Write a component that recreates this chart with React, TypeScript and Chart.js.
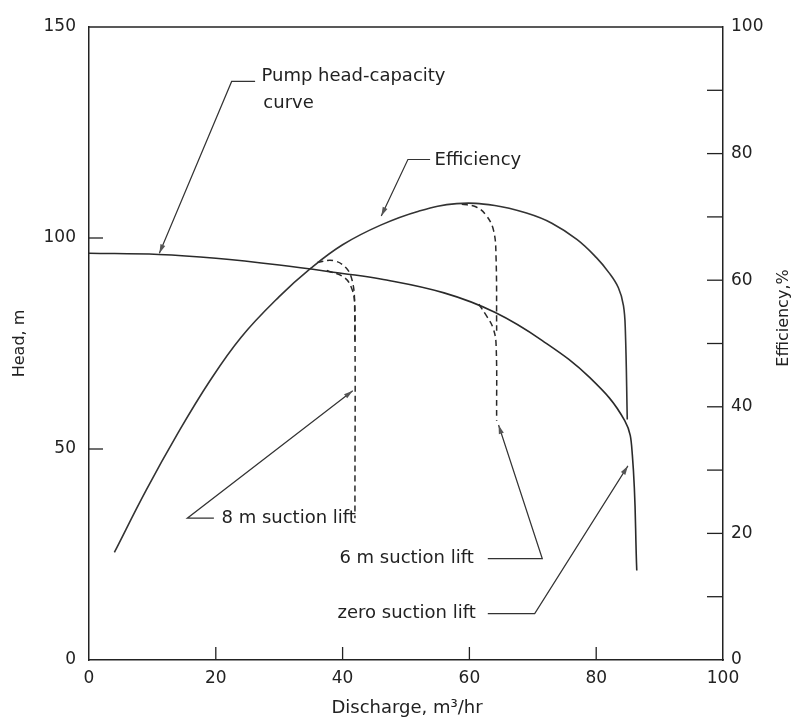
import React, { useEffect, useRef } from 'react';
import { Chart, registerables } from 'chart.js';

Chart.register(...registerables);

const FONT = "'DejaVu Sans', sans-serif";
const INK = '#222222';
const LINE = '#2a2a2a';

// Axis ranges / ticks
const xMin = 0;
const xMax = 100;
const xStep = 20;
const headMin = 0;
const headMax = 150;
const headStep = 50;
const effMin = 0;
const effMax = 100;
const effStep = 10;
const effLabelEvery = 20;

// Pump head-capacity curve (Head, m)
const headX = [0, 11, 20, 30, 40, 46, 56, 64, 71.5, 79, 84.5, 85.7, 86.4];
const headY = [96.4, 96.1, 95.2, 93.6, 91.6, 90.3, 87.0, 82.4, 75.7, 66.9, 56.7, 48.6, 21.2];

// Efficiency curve (%), zero suction lift
const effX = [4, 9, 14, 19, 24, 30, 35, 40, 46, 52, 58, 64, 69, 73, 77, 80, 82, 83.5, 84.3, 84.6, 84.9];
const effY = [17, 26.8, 35.8, 44, 51, 57.4, 61.9, 65.6, 68.7, 70.9, 72.1, 71.8, 70.6, 69, 66.4, 63.6, 61.2, 58.8, 56, 52, 38];

// 8 m suction lift (dashed)
const eff8X = [36, 38.5, 40.5, 41.5, 41.9, 41.95];
const eff8Y = [62.8, 63.1, 62, 60, 56.5, 50];
const head8X = [37.5, 40.3, 41.5, 41.9, 41.95];
const head8Y = [92.3, 90.6, 87.8, 84, 33.6];

// 6 m suction lift (dashed)
const eff6X = [58.8, 61, 62.6, 63.8, 64.2, 64.3];
const eff6Y = [72, 71.6, 70.3, 67.9, 63.7, 52];
const head6X = [61.5, 62.8, 63.7, 64.2, 64.3];
const head6Y = [84.3, 81.3, 78.8, 75, 56.7];

// Leader lines (x, head units): end, corner, tip
const pumpLeaderX = [26.2, 22.5, 11.1];
const pumpLeaderY = [137.1, 137.1, 96.4];
const effLeaderX = [53.8, 50.3, 46.1];
const effLeaderY = [118.6, 118.6, 105.2];
const lift8LeaderX = [19.7, 15.5, 41.6];
const lift8LeaderY = [33.6, 33.6, 63.8];
const lift6LeaderX = [62.9, 71.5, 64.6];
const lift6LeaderY = [24.0, 24.0, 55.7];
const lift0LeaderX = [62.9, 70.3, 85.0];
const lift0LeaderY = [11.0, 11.0, 46.0];

// Annotation texts (anchored at left-middle, in x / head units)
const noteTexts = ['Pump head-capacity', 'curve', 'Efficiency', '8 m suction lift', '6 m suction lift', 'zero suction lift'];
const noteX = [27.2, 27.5, 54.5, 20.9, 39.5, 39.2];
const noteY = [138.3, 131.9, 118.3, 33.6, 24.0, 11.0];

const xTitle = 'Discharge, m³/hr';
const headTitle = 'Head, m';
const effTitle = 'Efficiency,%';

const pts = (xs: number[], ys: number[]) => xs.map((x, i) => ({ x, y: ys[i] }));

const overlay = {
  id: 'overlay',
  afterDatasetsDraw(chart: any) {
    const ctx = chart.ctx;
    const xs = chart.scales.x;
    const ys = chart.scales.y;
    const ys1 = chart.scales.y1;
    const { left, right, top, bottom } = chart.chartArea;
    ctx.save();
    // top frame line
    ctx.strokeStyle = INK;
    ctx.lineWidth = 1.5;
    ctx.beginPath();
    ctx.moveTo(left, top);
    ctx.lineTo(right, top);
    ctx.stroke();
    // inward tick marks
    ctx.lineWidth = 1.3;
    for (let v = xMin + xStep; v < xMax; v += xStep) {
      const p = xs.getPixelForValue(v);
      ctx.beginPath();
      ctx.moveTo(p, bottom);
      ctx.lineTo(p, bottom - 13);
      ctx.stroke();
    }
    for (let v = headMin + headStep; v < headMax; v += headStep) {
      const p = ys.getPixelForValue(v);
      ctx.beginPath();
      ctx.moveTo(left, p);
      ctx.lineTo(left + 14, p);
      ctx.stroke();
    }
    for (let v = effMin + effStep; v < effMax; v += effStep) {
      const p = ys1.getPixelForValue(v);
      ctx.beginPath();
      ctx.moveTo(right, p);
      ctx.lineTo(right - 16, p);
      ctx.stroke();
    }
    // arrowheads on leaders
    chart.data.datasets.forEach((ds: any, i: number) => {
      if (!ds.leader) return;
      const meta = chart.getDatasetMeta(i);
      const n = meta.data.length;
      const tip = meta.data[n - 1];
      const prev = meta.data[n - 2];
      const ang = Math.atan2(tip.y - prev.y, tip.x - prev.x);
      const L = 9;
      const W = 2.6;
      ctx.fillStyle = '#555';
      ctx.beginPath();
      ctx.moveTo(tip.x, tip.y);
      ctx.lineTo(tip.x - L * Math.cos(ang) + W * Math.sin(ang), tip.y - L * Math.sin(ang) - W * Math.cos(ang));
      ctx.lineTo(tip.x - L * Math.cos(ang) - W * Math.sin(ang), tip.y - L * Math.sin(ang) + W * Math.cos(ang));
      ctx.closePath();
      ctx.fill();
    });
    // annotation texts
    ctx.fillStyle = INK;
    ctx.font = `18px ${FONT}`;
    ctx.textAlign = 'left';
    ctx.textBaseline = 'middle';
    noteTexts.forEach((t, i) => {
      ctx.fillText(t, xs.getPixelForValue(noteX[i]), ys.getPixelForValue(noteY[i]));
    });
    // axis titles
    ctx.textAlign = 'center';
    ctx.font = `18px ${FONT}`;
    ctx.fillText(xTitle, (left + right) / 2 + 1, 708);
    ctx.font = `16px ${FONT}`;
    ctx.save();
    ctx.translate(20, (top + bottom) / 2);
    ctx.rotate(-Math.PI / 2);
    ctx.fillText(headTitle, 0, 0);
    ctx.restore();
    ctx.save();
    ctx.translate(784, 318);
    ctx.rotate(-Math.PI / 2);
    ctx.fillText(effTitle, 0, 0);
    ctx.restore();
    ctx.restore();
  },
};

export default function App() {
  const ref = useRef<HTMLCanvasElement | null>(null);

  useEffect(() => {
    if (!ref.current) return;
    const solid = { borderColor: LINE, borderWidth: 1.6, pointRadius: 0, fill: false, tension: 0.4 };
    const dashed = { ...solid, borderWidth: 1.5, borderDash: [6, 4] };
    const leader = { borderColor: '#333', borderWidth: 1.2, pointRadius: 0, fill: false, tension: 0, leader: true };
    const chart = new Chart(ref.current, {
      type: 'line',
      data: {
        datasets: [
          { label: 'Pump head-capacity curve', data: pts(headX, headY), yAxisID: 'y', ...solid },
          { label: 'Efficiency', data: pts(effX, effY), yAxisID: 'y1', ...solid, borderColor: '#333' },
          { label: '8 m suction lift (efficiency)', data: pts(eff8X, eff8Y), yAxisID: 'y1', ...dashed },
          { label: '8 m suction lift (head)', data: pts(head8X, head8Y), yAxisID: 'y', ...dashed },
          { label: '6 m suction lift (efficiency)', data: pts(eff6X, eff6Y), yAxisID: 'y1', ...dashed },
          { label: '6 m suction lift (head)', data: pts(head6X, head6Y), yAxisID: 'y', ...dashed },
          { label: 'pump leader', data: pts(pumpLeaderX, pumpLeaderY), yAxisID: 'y', ...leader },
          { label: 'eff leader', data: pts(effLeaderX, effLeaderY), yAxisID: 'y', ...leader },
          { label: '8m leader', data: pts(lift8LeaderX, lift8LeaderY), yAxisID: 'y', ...leader },
          { label: '6m leader', data: pts(lift6LeaderX, lift6LeaderY), yAxisID: 'y', ...leader },
          { label: '0m leader', data: pts(lift0LeaderX, lift0LeaderY), yAxisID: 'y', ...leader },
        ] as any,
      },
      options: {
        animation: false,
        responsive: false,
        events: [],
        layout: { padding: { top: 27, left: 0, right: 0, bottom: 0 } },
        plugins: { legend: { display: false }, tooltip: { enabled: false }, title: { display: false } },
        scales: {
          x: {
            type: 'linear',
            min: xMin,
            max: xMax,
            ticks: { stepSize: xStep, padding: 8, color: INK, font: { family: FONT, size: 17 }, maxRotation: 0 },
            grid: { display: false, drawTicks: false },
            border: { display: true, color: INK, width: 1.5 },
            afterFit: (s: any) => { s.height = 58; },
          },
          y: {
            type: 'linear',
            position: 'left',
            min: headMin,
            max: headMax,
            ticks: { stepSize: headStep, padding: 13, color: INK, font: { family: FONT, size: 17 } },
            grid: { display: false, drawTicks: false },
            border: { display: true, color: INK, width: 1.5 },
            afterFit: (s: any) => { s.width = 89; },
          },
          y1: {
            type: 'linear',
            position: 'right',
            min: effMin,
            max: effMax,
            ticks: {
              stepSize: effStep,
              padding: 8,
              color: INK,
              font: { family: FONT, size: 17 },
              callback: (v: any) => (Number(v) % effLabelEvery === 0 ? String(v) : ''),
            },
            grid: { display: false, drawTicks: false },
            border: { display: true, color: INK, width: 1.5 },
            afterFit: (s: any) => { s.width = 76; },
          },
        },
      } as any,
      plugins: [overlay],
    });
    return () => chart.destroy();
  }, []);

  return (
    <div style={{ position: 'fixed', left: 0, top: 0, width: 799, height: 718, background: '#fff' }}>
      <canvas ref={ref} width={799} height={718} style={{ display: 'block' }} />
    </div>
  );
}
